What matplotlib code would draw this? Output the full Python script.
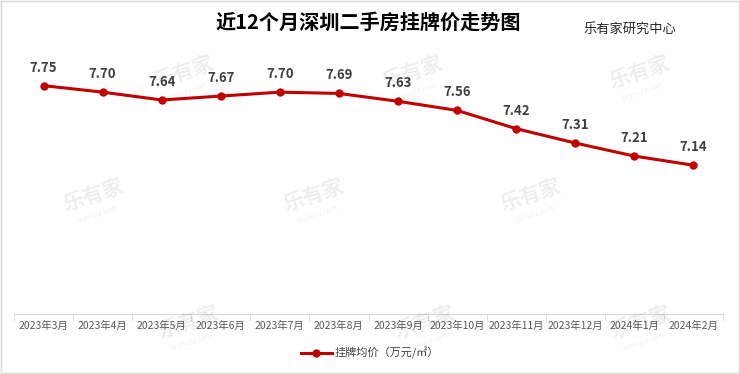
import numpy as np
import matplotlib.pyplot as plt

plt.rcParams['font.family'] = ['Noto Sans CJK SC', 'DejaVu Sans']

months = ["2023年3月", "2023年4月", "2023年5月", "2023年6月", "2023年7月", "2023年8月",
          "2023年9月", "2023年10月", "2023年11月", "2023年12月", "2024年1月", "2024年2月"]
prices = [7.75, 7.70, 7.64, 7.67, 7.70, 7.69, 7.63, 7.56, 7.42, 7.31, 7.21, 7.14]

fig = plt.figure(figsize=(7.4, 3.74), dpi=100)
ax = fig.add_axes([14 / 740, 1 - 314 / 374, 709 / 740, 261 / 374])

# faint watermarks (pixel positions in the figure)
for px, py in [(184, 72), (413, 72), (640, 72),
               (94, 195), (314, 195), (531, 195),
               (189, 322), (425, 322), (641, 322)]:
    fx, fy = px / 740, 1 - py / 374
    fig.text(fx, fy, "乐有家", fontsize=15, fontweight='bold', color='#000000', alpha=0.07,
             rotation=18, ha='center', va='center')
    fig.text(fx + 0.004, fy - 0.052, "Leyoujia.com", fontsize=5, color='#000000', alpha=0.07,
             rotation=18, ha='center', va='center')

x = np.arange(len(months))
line, = ax.plot(x, prices, color='#C00000', lw=2.2, marker='o', ms=5,
                label='挂牌均价（万元/㎡）', zorder=3)

for xi, v in zip(x, prices):
    ax.annotate(f"{v:.2f}", (xi, v), xytext=(0, 8), textcoords='offset points',
                ha='center', va='bottom', fontsize=9.5, fontweight='bold', color='#404040')

ax.set_xlim(-0.5, len(months) - 0.5)
ax.set_ylim(6.0, 8.0)
ax.set_yticks([])
ax.set_xticks(x)
ax.set_xticklabels(months, fontsize=7.5, color='#595959')
ax.set_xticks(np.arange(-0.5, len(months)), minor=True)
ax.tick_params(axis='x', which='major', length=0, pad=5)
ax.tick_params(axis='x', which='minor', length=5, color='#d9d9d9')
for s in ['top', 'right', 'left']:
    ax.spines[s].set_visible(False)
ax.spines['bottom'].set_color('#d9d9d9')
ax.patch.set_alpha(0)

fig.text(0.497, 0.94, "近12个月深圳二手房挂牌价走势图", ha='center', va='center',
         fontsize=14.5, fontweight='bold', color='#000000')
fig.text(0.851, 0.922, "乐有家研究中心", ha='center', va='center', fontsize=9.5, color='#262626')

fig.legend(handles=[line], loc='center', bbox_to_anchor=(0.5, 1 - 353 / 374), frameon=False,
           fontsize=8, labelcolor='#404040', handlelength=2.8, handletextpad=0.3)

fig.patches.append(plt.Rectangle((0.001, 0.002), 0.997, 0.995, transform=fig.transFigure,
                                 fill=False, edgecolor='#d9d9d9', lw=1))

fig.savefig("out.png", dpi=100)
